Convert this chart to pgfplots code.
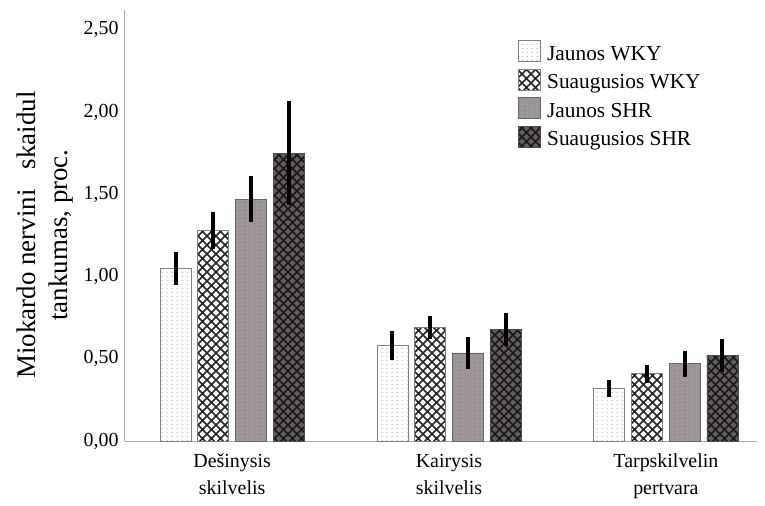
\documentclass[border=0pt]{standalone}
\usepackage{pgfplots}
\pgfplotsset{compat=1.18}
\usepackage{fontspec}
\setmainfont{Liberation Serif}
\usetikzlibrary{patterns,patterns.meta}
\definecolor{axgray}{HTML}{A8A8A8}
\definecolor{shr1}{HTML}{9C9494}
\definecolor{shr2}{HTML}{645C5C}
\tikzdeclarepattern{
  name=mycross, type=uncolored,
  bottom left={(-0.1bp,-0.1bp)}, top right={(9.1bp,9.1bp)},
  tile size={(9bp,9bp)},
  code={\draw[line width=1.7bp] (0,0) -- (9bp,9bp) (0,9bp) -- (9bp,0);}
}
\tikzdeclarepattern{
  name=mydots, type=uncolored,
  bottom left={(0bp,0bp)}, top right={(5bp,4bp)},
  tile size={(5bp,4bp)},
  code={\fill (2.5bp,2bp) circle (0.7bp);}
}
\pgfplotstableread{
x y e
0 1.05 0.10
1 0.58 0.09
2 0.32 0.05
}\jwky
\pgfplotstableread{
x y e
0 1.28 0.11
1 0.69 0.07
2 0.41 0.055
}\swky
\pgfplotstableread{
x y e
0 1.47 0.14
1 0.535 0.095
2 0.47 0.08
}\jshr
\pgfplotstableread{
x y e
0 1.75 0.315
1 0.68 0.10
2 0.52 0.10
}\sshr
\begin{document}
\begin{tikzpicture}
\begin{axis}[
  name=ax,
  scale only axis,
  width=632bp, height=431bp,
  xmin=-0.494, xmax=2.42,
  ymin=0, ymax=2.62,
  axis x line*=bottom, axis y line*=left,
  axis line style={axgray, line width=1bp, -},
  major tick length=0pt,
  ybar=6.7bp, bar width=31bp,
  xtick={0,1,2},
  xticklabels={{Dešinysis\\skilvelis},{Kairysis\\skilvelis},{Tarpskilvelin\\pertvara}},
  xticklabel style={align=center, font=\fontsize{20}{27}\selectfont, yshift=-9.5bp},
  ytick={0,0.5,1,1.5,2,2.5},
  yticklabel style={font=\fontsize{20}{24}\selectfont, xshift=-3bp},
  /pgf/number format/.cd, fixed, fixed zerofill, precision=2, use comma, assume math mode=true,
  /pgfplots/.cd,
  ylabel={Miokardo nervini\ \ \ skaidul\\ tankumas, proc.},
  ylabel style={align=center, font=\fontsize{27}{32}\selectfont,
    at={(axis description cs:-0.0823,0.478)}, anchor=south, inner sep=0pt},
  legend style={draw=none, fill=none, at={(0.622,0.930)}, anchor=north west,
    font=\fontsize{21.4}{25}\selectfont, row sep=5.3bp, inner sep=0pt,
    nodes={inner xsep=6bp}},
  legend cell align=left,
  legend image code/.code={\draw[#1] (0bp,-8bp) rectangle (22bp,13bp);},
  error bars/y dir=both, error bars/y explicit,
  error bars/error mark=none,
  error bars/error bar style={line width=4bp, black},
]
\addplot[draw=gray, line width=0.9bp, fill=white, postaction={pattern=mydots, pattern color=gray!70}]
  table[x=x, y=y, y error=e] {\jwky};
\addplot[draw=gray, line width=0.9bp, fill=white, postaction={pattern=mycross, pattern color=black!85}]
  table[x=x, y=y, y error=e] {\swky};
\addplot[draw=gray!80!black, line width=0.9bp, fill=shr1, postaction={pattern=mydots, pattern color=shr1!70!white}]
  table[x=x, y=y, y error=e] {\jshr};
\addplot[draw=gray!60!black, line width=0.9bp, fill=shr2, postaction={pattern=mycross, pattern color=black!90}]
  table[x=x, y=y, y error=e] {\sshr};
\legend{Jaunos WKY, Suaugusios WKY, Jaunos SHR, Suaugusios SHR}
\end{axis}
\pgfresetboundingbox
\path ([shift={(-125bp,-65bp)}]ax.south west) rectangle ([shift={(8bp,10bp)}]ax.north east);
\end{tikzpicture}
\end{document}
